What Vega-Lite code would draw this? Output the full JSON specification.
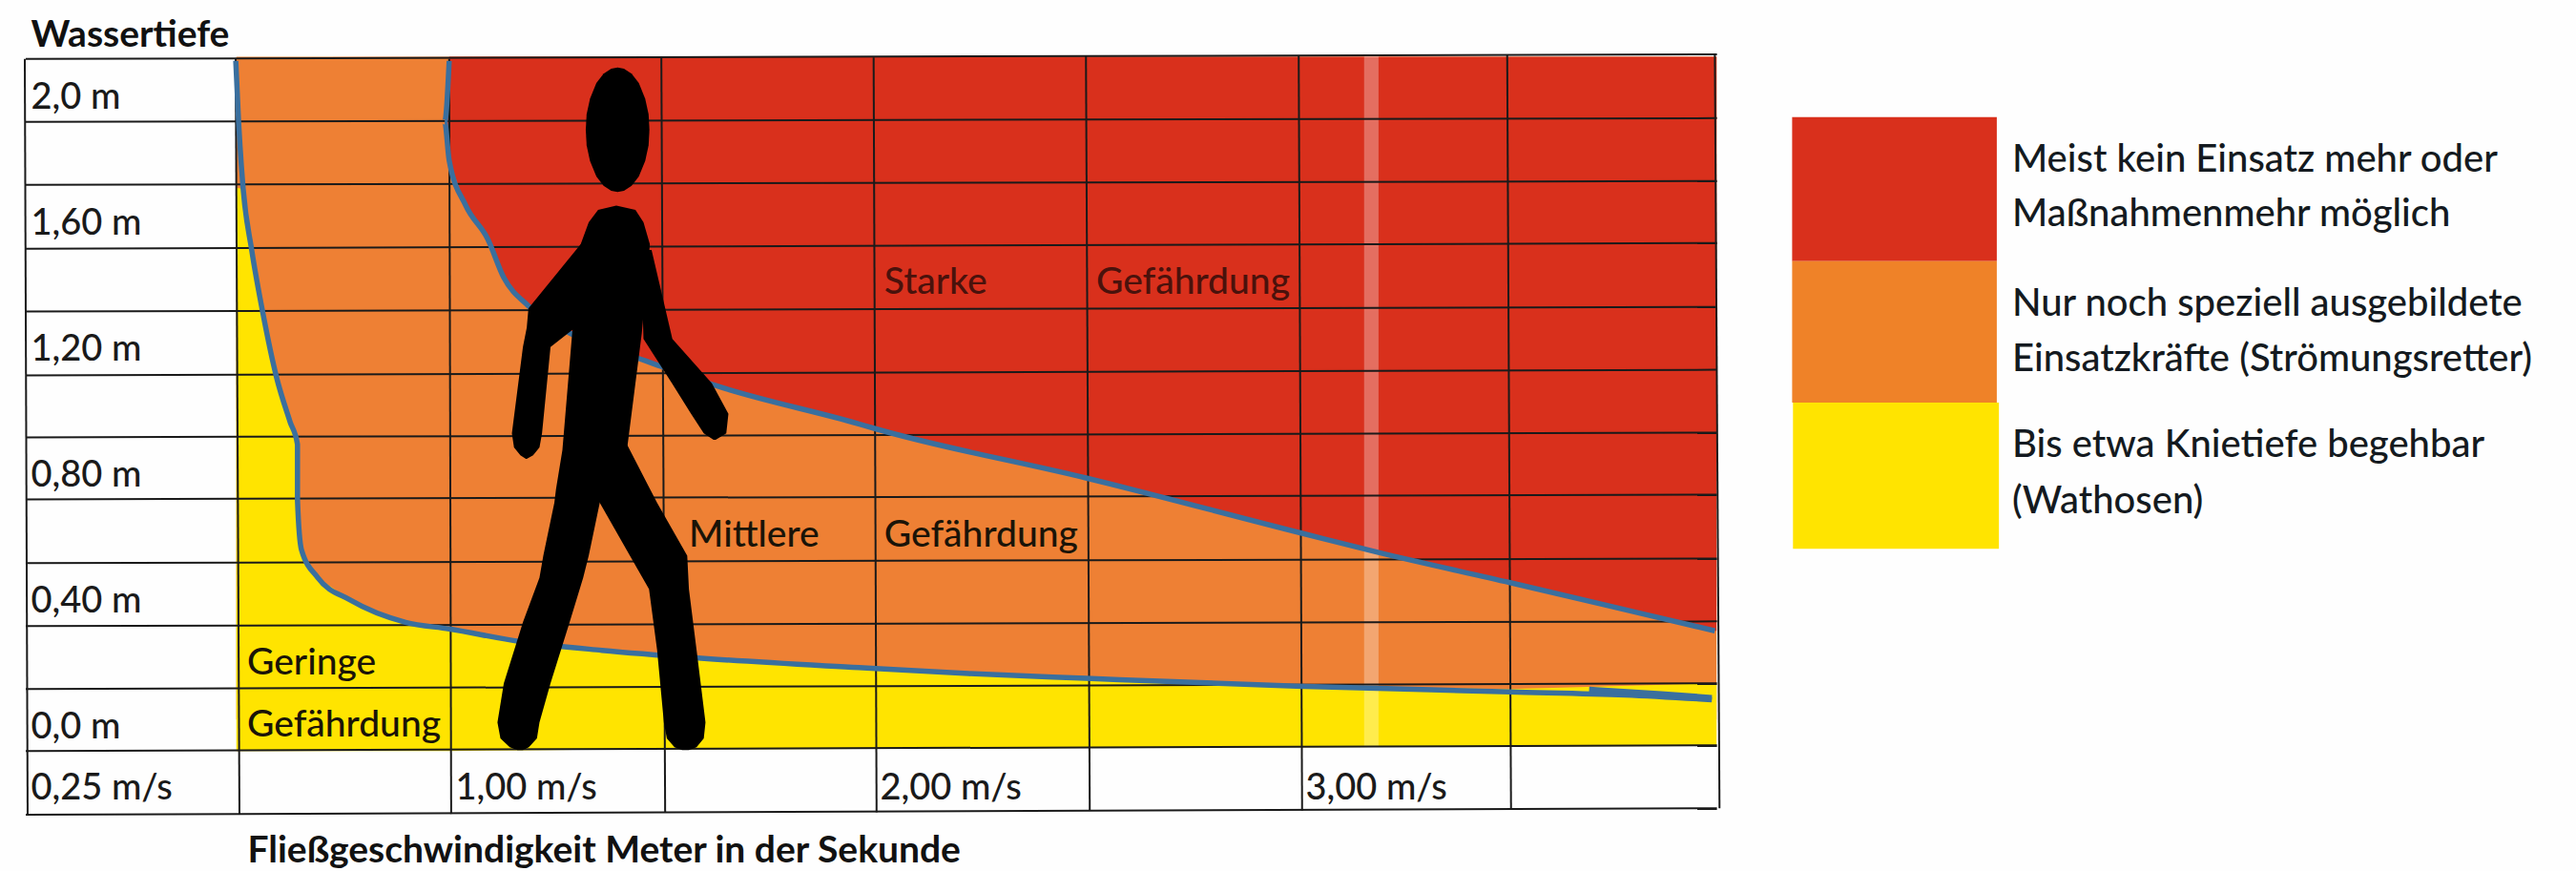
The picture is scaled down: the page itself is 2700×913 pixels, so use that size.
{"$schema":"https://vega.github.io/schema/vega-lite/v6.json","width":2700,"height":913,"padding":0,"autosize":{"type":"none"},"background":"#fefefe","config":{"view":{"stroke":null},"font":"Lato"},
"datasets":{
"flaeche":[{"von":0.622,"bis":3.98,"oben":2.207,"unten":0.1}],
"gelb":[{"v":0.622,"o":1.79,"u":0},{"v":0.634,"o":1.788,"u":0},{"v":0.649,"o":1.594,"u":0},{"v":0.669,"o":1.391,"u":0},{"v":0.693,"o":1.188,"u":0},{"v":0.717,"o":1.046,"u":0},{"v":0.73,"o":0.975,"u":0},{"v":0.7305,"o":0.797,"u":0},{"v":0.737,"o":0.64,"u":0},{"v":0.766,"o":0.551,"u":0},{"v":0.823,"o":0.48,"u":0},{"v":0.921,"o":0.409,"u":0},{"v":0.998,"o":0.388,"u":0},{"v":1.164,"o":0.348,"u":0.002},{"v":1.357,"o":0.32,"u":0.004},{"v":1.591,"o":0.295,"u":0.005},{"v":1.962,"o":0.265,"u":0.007},{"v":2.22,"o":0.246,"u":0.008},{"v":2.496,"o":0.231,"u":0.01},{"v":2.991,"o":0.206,"u":0.012},{"v":3.494,"o":0.197,"u":0.014},{"v":3.98,"o":0.215,"u":0.016}],
"rot":[{"v":0.998,"y":2.207,"r":3.98},{"v":0.99,"y":2.0,"r":3.98},{"v":0.998,"y":1.877,"r":3.98},{"v":1.036,"y":1.735,"r":3.98},{"v":1.088,"y":1.628,"r":3.98},{"v":1.126,"y":1.505,"r":3.98},{"v":1.184,"y":1.415,"r":3.98},{"v":1.281,"y":1.329,"r":3.98},{"v":1.461,"y":1.24,"r":3.98},{"v":1.629,"y":1.16,"r":3.98},{"v":1.962,"y":1.04,"r":3.98},{"v":2.0,"y":1.025,"r":3.98},{"v":2.496,"y":0.868,"r":3.98},{"v":3.004,"y":0.692,"r":3.98},{"v":3.184,"y":0.631,"r":3.98},{"v":3.494,"y":0.535,"r":3.98},{"v":3.803,"y":0.437,"r":3.98},{"v":3.976,"y":0.382,"r":3.98}],
"grenzen":[
{"linie":"A","i":1,"v":0.621,"y":2.194},{"linie":"A","i":2,"v":0.626,"y":2.0},{"linie":"A","i":3,"v":0.634,"y":1.788},{"linie":"A","i":4,"v":0.649,"y":1.594},{"linie":"A","i":5,"v":0.669,"y":1.391},{"linie":"A","i":6,"v":0.693,"y":1.188},{"linie":"A","i":7,"v":0.717,"y":1.046},{"linie":"A","i":8,"v":0.73,"y":0.975},{"linie":"A","i":9,"v":0.73,"y":0.797},{"linie":"A","i":10,"v":0.737,"y":0.64},{"linie":"A","i":11,"v":0.766,"y":0.551},{"linie":"A","i":12,"v":0.823,"y":0.48},{"linie":"A","i":13,"v":0.921,"y":0.409},{"linie":"A","i":14,"v":0.998,"y":0.388},{"linie":"A","i":15,"v":1.164,"y":0.348},{"linie":"A","i":16,"v":1.357,"y":0.32},{"linie":"A","i":17,"v":1.591,"y":0.295},{"linie":"A","i":18,"v":1.962,"y":0.265},{"linie":"A","i":19,"v":2.22,"y":0.246},{"linie":"A","i":20,"v":2.496,"y":0.231},{"linie":"A","i":21,"v":2.991,"y":0.206},{"linie":"A","i":22,"v":3.494,"y":0.188},{"linie":"A","i":23,"v":3.765,"y":0.178},{"linie":"A","i":24,"v":3.969,"y":0.163},
{"linie":"C","i":1,"v":3.68,"y":0.196},{"linie":"C","i":2,"v":3.85,"y":0.182},{"linie":"C","i":3,"v":3.969,"y":0.17},
{"linie":"B","i":1,"v":0.998,"y":2.194},{"linie":"B","i":2,"v":0.99,"y":2.0},{"linie":"B","i":3,"v":0.998,"y":1.877},{"linie":"B","i":4,"v":1.036,"y":1.735},{"linie":"B","i":5,"v":1.088,"y":1.628},{"linie":"B","i":6,"v":1.126,"y":1.505},{"linie":"B","i":7,"v":1.184,"y":1.415},{"linie":"B","i":8,"v":1.281,"y":1.329},{"linie":"B","i":9,"v":1.461,"y":1.24},{"linie":"B","i":10,"v":1.629,"y":1.16},{"linie":"B","i":11,"v":1.962,"y":1.04},{"linie":"B","i":12,"v":2.0,"y":1.025},{"linie":"B","i":13,"v":2.496,"y":0.868},{"linie":"B","i":14,"v":3.004,"y":0.692},{"linie":"B","i":15,"v":3.184,"y":0.631},{"linie":"B","i":16,"v":3.494,"y":0.535},{"linie":"B","i":17,"v":3.803,"y":0.437},{"linie":"B","i":18,"v":3.976,"y":0.382}],
"raster":[
{"x":0.25,"x2":3.981,"y":2.2,"y2":2.215},{"x":0.25,"x2":3.981,"y":2.0,"y2":2.012},{"x":0.25,"x2":3.981,"y":1.8,"y2":1.812},{"x":0.25,"x2":3.981,"y":1.597,"y2":1.615},{"x":0.25,"x2":3.981,"y":1.397,"y2":1.412},{"x":0.25,"x2":3.981,"y":1.194,"y2":1.212},{"x":0.25,"x2":3.981,"y":0.997,"y2":1.012},{"x":0.25,"x2":3.981,"y":0.8,"y2":0.815},{"x":0.25,"x2":3.981,"y":0.597,"y2":0.612},{"x":0.25,"x2":3.981,"y":0.397,"y2":0.412},{"x":0.25,"x2":3.981,"y":0.197,"y2":0.215},{"x":0.25,"x2":3.981,"y":0,"y2":0.018},{"x":0.25,"x2":3.981,"y":-0.203,"y2":-0.182},
{"x":0.2483,"x2":0.2533,"y":2.2,"y2":-0.203},{"x":0.6208,"x2":0.6275,"y":2.2,"y2":-0.2},{"x":0.998,"x2":1.002,"y":2.2,"y2":-0.2},{"x":1.497,"x2":1.506,"y":2.205,"y2":-0.195},{"x":1.997,"x2":2.004,"y":2.205,"y2":-0.195},{"x":2.496,"x2":2.505,"y":2.21,"y2":-0.19},{"x":2.996,"x2":3.004,"y":2.21,"y2":-0.19},{"x":3.487,"x2":3.496,"y":2.215,"y2":-0.185},{"x":3.976,"x2":3.987,"y":2.215,"y2":-0.182}],
"falz":[{"von":3.15,"bis":3.184,"oben":2.21,"unten":0.012}],
"figur":[
{"teil":"Kopf","y":2.173,"von":1.394,"bis":1.394},{"teil":"Kopf","y":2.169,"von":1.379,"bis":1.409},{"teil":"Kopf","y":2.153,"von":1.361,"bis":1.427},{"teil":"Kopf","y":2.124,"von":1.344,"bis":1.444},{"teil":"Kopf","y":2.074,"von":1.329,"bis":1.459},{"teil":"Kopf","y":2.0245,"von":1.321,"bis":1.467},{"teil":"Kopf","y":1.975,"von":1.319,"bis":1.469},{"teil":"Kopf","y":1.9255,"von":1.321,"bis":1.467},{"teil":"Kopf","y":1.876,"von":1.329,"bis":1.459},{"teil":"Kopf","y":1.8265,"von":1.344,"bis":1.444},{"teil":"Kopf","y":1.797,"von":1.361,"bis":1.427},{"teil":"Kopf","y":1.781,"von":1.379,"bis":1.409},{"teil":"Kopf","y":1.777,"von":1.394,"bis":1.394},
{"teil":"Rumpf","y":1.734,"von":1.391,"bis":1.391},{"teil":"Rumpf","y":1.72,"von":1.348,"bis":1.436},{"teil":"Rumpf","y":1.681,"von":1.326,"bis":1.455},{"teil":"Rumpf","y":1.611,"von":1.307,"bis":1.47},{"teil":"Rumpf","y":1.328,"von":1.287,"bis":1.451},{"teil":"Rumpf","y":0.957,"von":1.264,"bis":1.416},{"teil":"Rumpf","y":0.833,"von":1.249,"bis":1.365},{"teil":"Rumpf","y":0.789,"von":1.245,"bis":1.352},{"teil":"Rumpf","y":0.621,"von":1.219,"bis":1.326},{"teil":"Rumpf","y":0.551,"von":1.21,"bis":1.313},{"teil":"Rumpf","y":0.409,"von":1.171,"bis":1.281},{"teil":"Rumpf","y":0.215,"von":1.126,"bis":1.236},{"teil":"Rumpf","y":0.091,"von":1.111,"bis":1.21},{"teil":"Rumpf","y":0.04,"von":1.118,"bis":1.204},{"teil":"Rumpf","y":0.012,"von":1.14,"bis":1.185},{"teil":"Rumpf","y":0.003,"von":1.158,"bis":1.171},
{"teil":"Bein","y":0.975,"von":1.345,"bis":1.416},{"teil":"Bein","y":0.789,"von":1.352,"bis":1.487},{"teil":"Bein","y":0.621,"von":1.423,"bis":1.558},{"teil":"Bein","y":0.515,"von":1.468,"bis":1.562},{"teil":"Bein","y":0.321,"von":1.487,"bis":1.58},{"teil":"Bein","y":0.091,"von":1.503,"bis":1.601},{"teil":"Bein","y":0.04,"von":1.51,"bis":1.597},{"teil":"Bein","y":0.012,"von":1.528,"bis":1.58},{"teil":"Bein","y":0.003,"von":1.546,"bis":1.562},
{"teil":"ArmL","y":1.611,"von":1.307,"bis":1.326},{"teil":"ArmL","y":1.407,"von":1.184,"bis":1.307},{"teil":"ArmL","y":1.346,"von":1.18,"bis":1.294},{"teil":"ArmL","y":1.284,"von":1.171,"bis":1.236},{"teil":"ArmL","y":1.01,"von":1.145,"bis":1.216},{"teil":"ArmL","y":0.965,"von":1.15,"bis":1.21},{"teil":"ArmL","y":0.94,"von":1.165,"bis":1.195},{"teil":"ArmL","y":0.929,"von":1.178,"bis":1.18},
{"teil":"ArmR","y":1.593,"von":1.449,"bis":1.474},{"teil":"ArmR","y":1.31,"von":1.455,"bis":1.523},{"teil":"ArmR","y":1.169,"von":1.522,"bis":1.616},{"teil":"ArmR","y":1.072,"von":1.567,"bis":1.655},{"teil":"ArmR","y":1.01,"von":1.597,"bis":1.65},{"teil":"ArmR","y":0.989,"von":1.62,"bis":1.625}],
"schrift":[{"t":"Geringe","x":0.641,"y":0.243},{"t":"Gefährdung","x":0.641,"y":0.046},{"t":"Mittlere","x":1.562,"y":0.649},{"t":"Gefährdung","x":2.022,"y":0.649}],
"schriftRot":[{"t":"Starke","x":2.022,"y":1.452},{"t":"Gefährdung","x":2.52,"y":1.452}],
"legende":[{"stufe":"Starke Gefährdung","von":4.158,"bis":4.64,"oben":2.015,"unten":1.557},{"stufe":"Mittlere Gefährdung","von":4.158,"bis":4.64,"oben":1.557,"unten":1.108},{"stufe":"Geringe Gefährdung","von":4.16,"bis":4.645,"oben":1.108,"unten":0.643}],
"legendeText":[{"t":"Meist kein Einsatz mehr oder","x":4.676,"y":1.843},{"t":"Maßnahmenmehr möglich","x":4.676,"y":1.668},{"t":"Nur noch speziell ausgebildete","x":4.676,"y":1.385},{"t":"Einsatzkräfte (Strömungsretter)","x":4.676,"y":1.209},{"t":"Bis etwa Knietiefe begehbar","x":4.676,"y":0.935},{"t":"(Wathosen)","x":4.676,"y":0.757}]
},
"layer":[
{"data":{"name":"flaeche"},"mark":{"type":"rect","color":"#EE8034"},"encoding":{
"x":{"field":"von","type":"quantitative","scale":{"domain":[0.2045,1,2,3,6.004],"range":[0,472,917,1363,2700],"nice":false,"zero":false},"axis":{"values":[0.25,1,2,3],"title":"Fließgeschwindigkeit Meter in der Sekunde","titleFont":"Lato","titleFontSize":39,"titleFontWeight":"bold","titleColor":"#111111","titleX":259,"titleY":-10,"titleAlign":"left","titleAnchor":"start","titleBaseline":"alphabetic","domain":false,"ticks":false,"grid":false,"labelFont":"Lato","labelFontSize":38,"labelFontWeight":500,"labelColor":"#1a1a1a","labelAlign":"left","labelBaseline":"alphabetic","labelPadding":-76,"labelOffset":5,"labelOverlap":false,"labelFlush":false,"labelBound":false,"labelExpr":"replace(format(datum.value,'.2f'),'.',',')+' m/s'"}},
"x2":{"field":"bis"},
"y":{"field":"oben","type":"quantitative","scale":{"domain":[-0.3816,2.3876],"range":[913,0],"nice":false,"zero":false},"axis":{"values":[0,0.4,0.8,1.2,1.6,2],"title":"Wassertiefe","titleFont":"Lato","titleFontSize":39,"titleFontWeight":"bold","titleColor":"#111111","titleX":32,"titleY":48,"titleAngle":0,"titleAlign":"left","titleAnchor":"start","titleBaseline":"alphabetic","domain":false,"ticks":false,"grid":false,"labelFont":"Lato","labelFontSize":38,"labelFontWeight":500,"labelColor":"#1a1a1a","labelAlign":"left","labelBaseline":"alphabetic","labelPadding":-32,"labelOffset":-14,"labelOverlap":false,"labelFlush":false,"labelBound":false,"labelExpr":"datum.value==0?'0,0 m':datum.value==2?'2,0 m':replace(format(datum.value,'.2f'),'.',',')+' m'"}},
"y2":{"field":"unten"}}},
{"data":{"name":"gelb"},"mark":{"type":"area","color":"#FFE400"},"encoding":{"x":{"field":"v","type":"quantitative"},"y":{"field":"o","type":"quantitative"},"y2":{"field":"u"}}},
{"data":{"name":"rot"},"mark":{"type":"area","orient":"horizontal","color":"#D9301C"},"encoding":{"y":{"field":"y","type":"quantitative"},"x":{"field":"v","type":"quantitative"},"x2":{"field":"r"}}},
{"data":{"name":"falz"},"mark":{"type":"rect","color":"#ffffff","opacity":0.3},"encoding":{"x":{"field":"von","type":"quantitative"},"x2":{"field":"bis"},"y":{"field":"oben","type":"quantitative"},"y2":{"field":"unten"}}},
{"data":{"name":"raster"},"mark":{"type":"rule","color":"#1a1a1a","strokeWidth":2},"encoding":{"x":{"field":"x","type":"quantitative"},"x2":{"field":"x2"},"y":{"field":"y","type":"quantitative"},"y2":{"field":"y2"}}},
{"data":{"name":"grenzen"},"mark":{"type":"line","color":"#3A6F9E","strokeWidth":5.5,"interpolate":"monotone"},"encoding":{"x":{"field":"v","type":"quantitative"},"y":{"field":"y","type":"quantitative"},"detail":{"field":"linie"},"order":{"field":"i"}}},
{"data":{"name":"figur"},"mark":{"type":"area","orient":"horizontal","color":"#000000"},"encoding":{"y":{"field":"y","type":"quantitative"},"x":{"field":"von","type":"quantitative"},"x2":{"field":"bis"},"detail":{"field":"teil"}}},
{"data":{"name":"schrift"},"mark":{"type":"text","align":"left","baseline":"alphabetic","font":"Lato","fontSize":39,"fontWeight":500,"color":"#1a1408"},"encoding":{"x":{"field":"x","type":"quantitative"},"y":{"field":"y","type":"quantitative"},"text":{"field":"t"}}},
{"data":{"name":"schriftRot"},"mark":{"type":"text","align":"left","baseline":"alphabetic","font":"Lato","fontSize":39,"fontWeight":500,"color":"#4a120c"},"encoding":{"x":{"field":"x","type":"quantitative"},"y":{"field":"y","type":"quantitative"},"text":{"field":"t"}}},
{"data":{"name":"legende"},"mark":{"type":"rect"},"encoding":{"x":{"field":"von","type":"quantitative"},"x2":{"field":"bis"},"y":{"field":"oben","type":"quantitative"},"y2":{"field":"unten"},"color":{"field":"stufe","type":"nominal","scale":{"domain":["Starke Gefährdung","Mittlere Gefährdung","Geringe Gefährdung"],"range":["#D9301C","#EF8228","#FFE400"]},"legend":null}}},
{"data":{"name":"legendeText"},"mark":{"type":"text","align":"left","baseline":"alphabetic","font":"Lato","fontSize":40,"fontWeight":500,"color":"#141a20"},"encoding":{"x":{"field":"x","type":"quantitative"},"y":{"field":"y","type":"quantitative"},"text":{"field":"t"}}}
]}
